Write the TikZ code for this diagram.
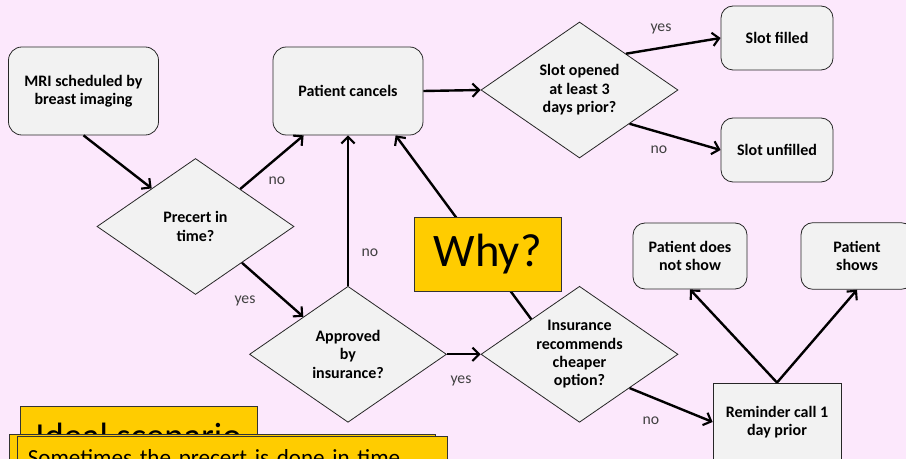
\documentclass[tikz,border=0pt]{standalone}
\usepackage{fontspec}
\setmainfont{Carlito}
\usetikzlibrary{shapes.geometric,arrows.meta}

\definecolor{bgpink}{RGB}{252,232,252}
\definecolor{boxgray}{RGB}{242,242,242}
\definecolor{noteyellow}{RGB}{255,204,0}

\newcommand{\blockfont}{\fontsize{12}{13.8}\selectfont\bfseries}
\newcommand{\labelfont}{\fontsize{11.8}{13}\selectfont}

\tikzset{
	roundBlock/.style={draw=black!85, line width=0.6pt, fill=boxgray, rounded corners=10pt,
		align=center, font=\blockfont},
	squareBlock/.style={draw=black!85, line width=0.6pt, fill=boxgray, align=center, font=\blockfont},
	decisionBlock/.style={draw=black!85, line width=0.6pt, fill=boxgray, diamond, aspect=1.45,
		inner sep=0pt, minimum width=147.75pt, minimum height=102pt, align=center, font=\blockfont},
	noteBox/.style={draw=black!80, line width=0.6pt, fill=noteyellow},
	flowArrow/.style={line width=1.8pt, -{Straight Barb[length=5pt,width=10pt,line width=1.6pt]}},
	flowLabel/.style={font=\labelfont, text=black!75}
}

\begin{document}
\begin{tikzpicture}[x=0.75pt,y=-0.75pt]
			
			%Background
			\fill[bgpink] (0,0) rectangle (906,459);
			\useasboundingbox (0,0) rectangle (906,459);
			\clip (0,0) rectangle (906,459);
			
			%MRI scheduled block
			\node (mriScheduled) at (83.5,91) [roundBlock, minimum width=112.5pt,
			minimum height=66pt]{MRI scheduled by\\ breast imaging};
			
			%Patient cancels block
			\node (patientCancels) at (348,91) [roundBlock, minimum width=112.5pt,
			minimum height=66pt]{Patient cancels};
			
			%Slot decision and outcomes
			\node (slotOpened) at (579.5,90) [decisionBlock]{Slot opened\\ at least 3\\ days prior?};
			\node (slotFilled) at (777,38) [roundBlock, rounded corners=9pt, minimum width=84pt,
			minimum height=48pt]{Slot filled};
			\node (slotUnfilled) at (777,150) [roundBlock, rounded corners=9pt, minimum width=84pt,
			minimum height=48pt]{Slot unfilled};
			
			%Precert decision
			\node (precertTime) at (195.5,226.5) [decisionBlock]{Precert in\\ time?};
			
			%Insurance decisions
			\node (approvedInsurance) at (348,354.3) [decisionBlock]{Approved\\ by\\ insurance?};
			\node (insuranceCheaper) at (579.5,354.3) [decisionBlock]{Insurance\\ recommends\\
			cheaper\\ option?};
			
			%Reminder call and show blocks
			\node (reminderCall) at (777,422) [squareBlock, minimum width=96pt,
			minimum height=58.5pt]{Reminder call 1\\ day prior};
			\node (patientNoShow) at (690,256) [roundBlock, rounded corners=9pt, minimum width=85.5pt,
			minimum height=49.5pt]{Patient does\\ not show};
			\node (patientShows) at (857,256) [roundBlock, rounded corners=9pt, minimum width=84pt,
			minimum height=50pt]{Patient\\ shows};
			
			%Links among blocks
			\draw[flowArrow] (mriScheduled.south) -- (precertTime.139);
			\draw[flowArrow] (precertTime.40) -- (patientCancels.225);
			\draw[flowArrow] (precertTime.-38) -- (approvedInsurance.140);
			\draw[flowArrow] (approvedInsurance.north) -- (patientCancels.south);
			\draw[flowArrow] (approvedInsurance.east) -- (insuranceCheaper.west);
			\draw[flowArrow] (insuranceCheaper.144) -- (patientCancels.-43);
			\draw[flowArrow] (patientCancels.east) -- (slotOpened.west);
			\draw[flowArrow] (slotOpened.38) -- (slotFilled.west);
			\draw[flowArrow] (slotOpened.-34) -- (slotUnfilled.west);
			\draw[flowArrow] (insuranceCheaper.-34) -- (reminderCall.west);
			\draw[flowArrow] (reminderCall.north) -- (patientNoShow.south);
			\draw[flowArrow] (reminderCall.north) -- (patientShows.south);
			
			%Labels on links
			\node (noPrecert) at (277,181) [flowLabel]{no};
			\node (yesPrecert) at (245,301) [flowLabel]{yes};
			\node (noApproved) at (370,253) [flowLabel]{no};
			\node (yesApproved) at (461,381) [flowLabel]{yes};
			\node (yesSlot) at (661,29) [flowLabel]{yes};
			\node (noSlot) at (659,150) [flowLabel]{no};
			\node (noCheaper) at (651,421) [flowLabel]{no};
			
			%Why note
			\node (whyNote) at (487.7,254.5) [noteBox, minimum width=110pt, minimum height=56pt,
			font=\fontsize{35}{38}\selectfont]{Why?};
			
			%Scenario notes
			\node (idealNote) at (138.5,435.5) [noteBox, minimum width=177.75pt, minimum height=44pt,
			font=\fontsize{27.5}{30}\selectfont]{Ideal scenario};
			\node (sometimesBack) at (9,434.3) [noteBox, anchor=north west, minimum width=319.5pt,
			minimum height=45pt]{};
			\node (sometimesNote) at (16.7,435.7) [noteBox, anchor=north west, minimum width=323pt,
			inner xsep=7.5pt, inner ysep=10pt, align=left, text width=307pt,
			font=\fontsize{17.3}{20}\selectfont]{Sometimes the precert is done in time};
			
			\end{tikzpicture}
\end{document}
